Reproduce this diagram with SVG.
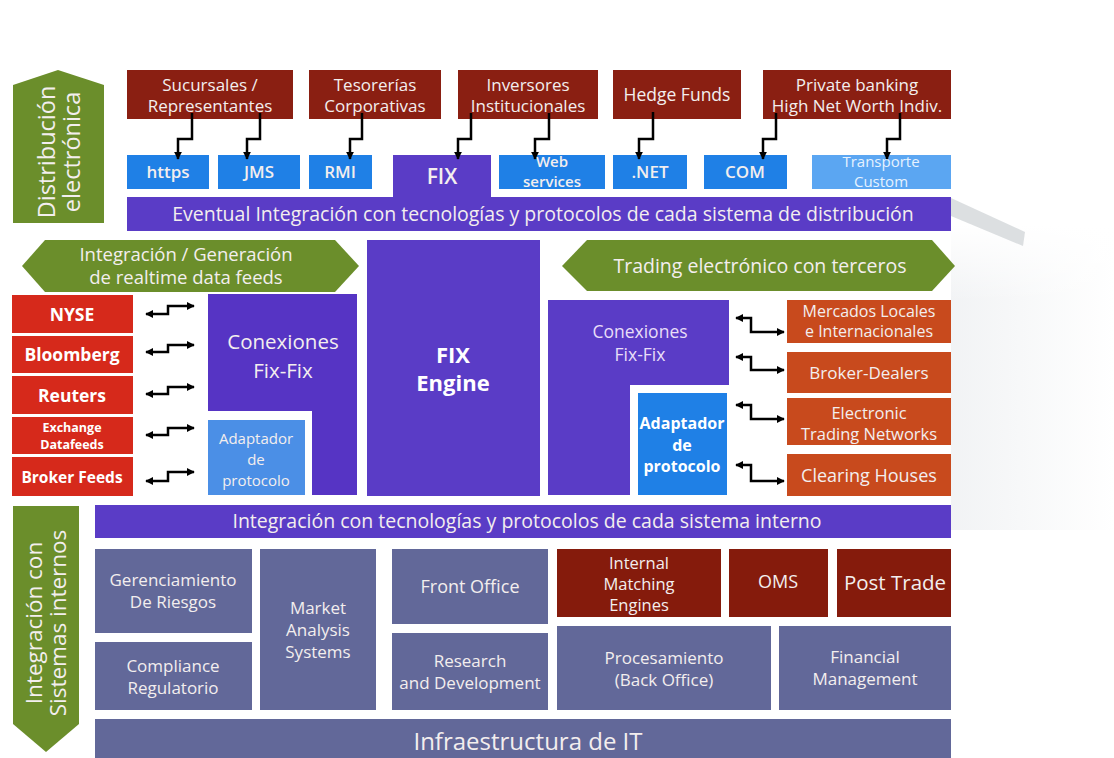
<svg xmlns="http://www.w3.org/2000/svg" width="1114" height="758" viewBox="0 0 1114 758">
<style>
text{font-family:"Open Sans","DejaVu Sans",sans-serif;text-anchor:middle;fill:#f3eeee}
.brown{fill:#8a1f12}
.blue{fill:#1f80e6}
.lblue{fill:#5ba6f2}
.purple{fill:#5a3cc6}
.green{fill:#6b8e2b}
.red{fill:#d6291b}
.orange{fill:#c84a1d}
.slate{fill:#626899}
.dbrown{fill:#851b0c}
.b{font-weight:bold;fill:#ffffff}
.sb{font-weight:600}
.conn path{fill:none;stroke:#000;stroke-width:2.5}
</style>
<defs>
<marker id="ah" viewBox="0 0 10 10" refX="9" refY="5" markerWidth="8" markerHeight="8" markerUnits="userSpaceOnUse" orient="auto-start-reverse">
<path d="M0,0 L10,5 L0,10 z" fill="#000"/>
</marker>
<linearGradient id="bg" x1="0" y1="0" x2="1" y2="0">
<stop offset="0" stop-color="#e6e9ec"/>
<stop offset="1" stop-color="#ffffff"/>
</linearGradient>
<linearGradient id="bgv" x1="0" y1="0" x2="0" y2="1">
<stop offset="0" stop-color="#ffffff" stop-opacity="1"/>
<stop offset="0.25" stop-color="#ffffff" stop-opacity="0"/>
</linearGradient>
</defs>
<rect width="1114" height="758" fill="#ffffff"/>
<g id="background">
<rect x="951" y="225" width="163" height="305" fill="url(#bg)" opacity="0.55"/>
<rect x="951" y="225" width="163" height="305" fill="url(#bgv)"/>
<polygon points="951,198 1025,232 1023,246 951,216" fill="#d3d7da" opacity="0.8"/>
</g>

<g id="dist-label">
<polygon class="green" points="13,85 58,70 104,85 104,223 13,223"/>
<text transform="translate(55,152) rotate(-90)" font-size="23.5">Distribución</text>
<text transform="translate(80,152) rotate(-90)" font-size="23.5">electrónica</text>
</g>

<g id="sucursales"><rect class="brown" x="127" y="70" width="166" height="49"/><text x="210" y="91" font-size="17">Sucursales /</text><text x="210" y="112" font-size="17">Representantes</text></g>
<g id="tesorerias"><rect class="brown" x="309" y="70" width="132" height="49"/><text x="375" y="91" font-size="17">Tesorerías</text><text x="375" y="112" font-size="17">Corporativas</text></g>
<g id="inversores"><rect class="brown" x="458" y="70" width="140" height="49"/><text x="528" y="91" font-size="17">Inversores</text><text x="528" y="112" font-size="17">Institucionales</text></g>
<g id="hedge"><rect class="brown" x="613" y="70" width="128" height="49"/><text x="677" y="101" font-size="17.5">Hedge Funds</text></g>
<g id="private"><rect class="brown" x="763" y="70" width="188" height="49"/><text x="857" y="91" font-size="17">Private banking</text><text x="857" y="112" font-size="17">High Net Worth Indiv.</text></g>

<g id="https"><rect class="blue" x="127" y="155" width="82" height="34"/><text class="sb" x="168" y="178" font-size="17">https</text></g>
<g id="jms"><rect class="blue" x="218" y="155" width="82" height="34"/><text class="sb" x="259" y="178" font-size="17">JMS</text></g>
<g id="rmi"><rect class="blue" x="309" y="155" width="63" height="34"/><text class="sb" x="340" y="178" font-size="17">RMI</text></g>
<g id="fix"><rect class="purple" x="393" y="155" width="98" height="44"/><text class="sb" x="442" y="184" font-size="21">FIX</text></g>
<g id="webservices"><rect class="blue" x="499" y="155" width="106" height="34"/><text class="sb" x="552" y="167" font-size="15">Web</text><text class="sb" x="552" y="186.5" font-size="15">services</text></g>
<g id="net"><rect class="blue" x="613" y="155" width="74" height="34"/><text class="sb" x="650" y="178" font-size="17">.NET</text></g>
<g id="com"><rect class="blue" x="704" y="155" width="83" height="34"/><text class="sb" x="745" y="178" font-size="17">COM</text></g>
<g id="transporte"><rect class="lblue" x="812" y="155" width="139" height="34"/><text x="881" y="167" font-size="15" style="fill:#e6f2ff">Transporte</text><text x="881" y="186.5" font-size="15" style="fill:#e6f2ff">Custom</text></g>

<g id="eventual"><rect class="purple" x="127" y="197" width="824" height="34"/><text x="543" y="220.5" font-size="19.5">Eventual Integración con tecnologías y protocolos de cada sistema de distribución</text></g>

<g id="realtime-label">
<polygon class="green" points="22,266 45,240 335,240 359,266 335,292 45,292"/>
<text x="186" y="261" font-size="18.5">Integración / Generación</text>
<text x="186" y="284" font-size="18.5">de realtime data feeds</text>
</g>
<g id="trading-label">
<polygon class="green" points="562,266 587,240 932,240 955,266 932,291 587,291"/>
<text x="760" y="272.5" font-size="19.5">Trading electrónico con terceros</text>
</g>

<g id="fix-engine"><rect class="purple" x="367" y="240" width="173" height="256"/><text class="b" x="453" y="363" font-size="22">FIX</text><text class="b" x="453" y="391" font-size="22">Engine</text></g>

<g id="nyse"><rect class="red" x="12" y="295" width="121" height="38"/><text class="b" x="72" y="320.5" font-size="17.5">NYSE</text></g>
<g id="bloomberg"><rect class="red" x="12" y="336" width="121" height="37"/><text class="b" x="72" y="361" font-size="17.5">Bloomberg</text></g>
<g id="reuters"><rect class="red" x="12" y="376" width="121" height="38"/><text class="b" x="72" y="401.5" font-size="17.5">Reuters</text></g>
<g id="exchange"><rect class="red" x="12" y="417" width="121" height="37"/><text class="b" x="72" y="432" font-size="12.5">Exchange</text><text class="b" x="72" y="449" font-size="12.5">Datafeeds</text></g>
<g id="brokerfeeds"><rect class="red" x="12" y="457" width="121" height="39"/><text class="b" x="72" y="482.5" font-size="15.5">Broker Feeds</text></g>

<g id="conexiones-left"><path class="purple" d="M208,294 H357 V495 H312 V411 H208 Z" style="fill:#5634c4"/><text x="283" y="349" font-size="20.5">Conexiones</text><text x="283" y="378" font-size="20.5">Fix-Fix</text></g>
<g id="adaptador-left"><rect x="208" y="420" width="97" height="75" fill="#4b8fe6"/><text x="256" y="444" font-size="15">Adaptador</text><text x="256" y="465" font-size="15">de</text><text x="256" y="486" font-size="15">protocolo</text></g>

<g id="conexiones-right"><path class="purple" d="M548,300 H729 V385 H630 V495 H548 Z"/><text x="640" y="338" font-size="17.5" style="fill:#e8def8">Conexiones</text><text x="640" y="361" font-size="17.5" style="fill:#e8def8">Fix-Fix</text></g>
<g id="adaptador-right"><rect class="blue" x="638" y="393" width="89" height="102"/><text class="b" x="682" y="429" font-size="16">Adaptador</text><text class="b" x="682" y="451" font-size="16">de</text><text class="b" x="682" y="472" font-size="16">protocolo</text></g>

<g id="mercados"><rect class="orange" x="787" y="300" width="164" height="43"/><text x="869" y="317" font-size="16">Mercados Locales</text><text x="869" y="337" font-size="16">e Internacionales</text></g>
<g id="brokerdealers"><rect class="orange" x="787" y="352" width="164" height="41"/><text x="869" y="379" font-size="17">Broker-Dealers</text></g>
<g id="ecn"><rect class="orange" x="787" y="398" width="164" height="47"/><text x="869" y="419" font-size="16.5">Electronic</text><text x="869" y="440" font-size="16.5">Trading Networks</text></g>
<g id="clearing"><rect class="orange" x="787" y="454" width="164" height="42"/><text x="869" y="481.5" font-size="18">Clearing Houses</text></g>

<g id="interno"><rect class="purple" x="95" y="505" width="856" height="33"/><text x="527" y="528" font-size="19.5">Integración con tecnologías y protocolos de cada sistema interno</text></g>

<g id="interno-label">
<polygon class="green" points="13,506 79,506 79,724 46,752 13,724"/>
<text transform="translate(42,623) rotate(-90)" font-size="22.5">Integración con</text>
<text transform="translate(66,623) rotate(-90)" font-size="22.5">Sistemas internos</text>
</g>

<g id="riesgos"><rect class="slate" x="95" y="549" width="157" height="84"/><text x="173" y="586" font-size="17">Gerenciamiento</text><text x="173" y="608" font-size="17">De Riesgos</text></g>
<g id="compliance"><rect class="slate" x="95" y="642" width="157" height="68"/><text x="173" y="672" font-size="17">Compliance</text><text x="173" y="694" font-size="17">Regulatorio</text></g>
<g id="market"><rect class="slate" x="260" y="549" width="116" height="161"/><text x="318" y="614" font-size="17">Market</text><text x="318" y="636" font-size="17">Analysis</text><text x="318" y="658" font-size="17">Systems</text></g>
<g id="frontoffice"><rect class="slate" x="392" y="549" width="156" height="75"/><text x="470" y="592.5" font-size="18">Front Office</text></g>
<g id="research"><rect class="slate" x="392" y="633" width="156" height="77"/><text x="470" y="667" font-size="17">Research</text><text x="470" y="689" font-size="17">and Development</text></g>
<g id="matching"><rect class="dbrown" x="557" y="549" width="164" height="68"/><text x="639" y="569" font-size="16.5">Internal</text><text x="639" y="590" font-size="16.5">Matching</text><text x="639" y="611" font-size="16.5">Engines</text></g>
<g id="oms"><rect class="dbrown" x="729" y="549" width="99" height="68"/><text x="778" y="588" font-size="18">OMS</text></g>
<g id="posttrade"><rect class="dbrown" x="837" y="549" width="114" height="68"/><text x="895" y="590" font-size="20.5">Post Trade</text></g>
<g id="procesamiento"><rect class="slate" x="557" y="626" width="214" height="84"/><text x="664" y="664" font-size="17">Procesamiento</text><text x="664" y="686" font-size="17">(Back Office)</text></g>
<g id="financial"><rect class="slate" x="779" y="626" width="172" height="84"/><text x="865" y="663" font-size="17">Financial</text><text x="865" y="685" font-size="17">Management</text></g>
<g id="infra"><rect class="slate" x="95" y="719" width="856" height="39"/><text x="528" y="750" font-size="24">Infraestructura de IT</text></g>

<g id="connectors" class="conn">
<path d="M192,113 V139 H178 V159" marker-end="url(#ah)"/>
<path d="M260,113 V139 H247 V159" marker-end="url(#ah)"/>
<path d="M362,113 V139 H350 V159" marker-end="url(#ah)"/>
<path d="M471,113 V139 H458 V159" marker-end="url(#ah)"/>
<path d="M549,113 V139 H535 V159" marker-end="url(#ah)"/>
<path d="M653,112 V139 H639 V159" marker-end="url(#ah)"/>
<path d="M776,113 V139 H763 V159" marker-end="url(#ah)"/>
<path d="M900,113 V139 H887 V159" marker-end="url(#ah)"/>
<path d="M146,314 H168 V306 H194" marker-start="url(#ah)" marker-end="url(#ah)"/>
<path d="M146,352 H168 V345 H194" marker-start="url(#ah)" marker-end="url(#ah)"/>
<path d="M146,394 H168 V387 H194" marker-start="url(#ah)" marker-end="url(#ah)"/>
<path d="M146,435 H168 V428 H194" marker-start="url(#ah)" marker-end="url(#ah)"/>
<path d="M146,481 H168 V472 H194" marker-start="url(#ah)" marker-end="url(#ah)"/>
<path d="M736,318 H751 V332 H784" marker-start="url(#ah)" marker-end="url(#ah)"/>
<path d="M736,357 H751 V370 H784" marker-start="url(#ah)" marker-end="url(#ah)"/>
<path d="M736,405 H751 V419 H784" marker-start="url(#ah)" marker-end="url(#ah)"/>
<path d="M736,465 H751 V481 H784" marker-start="url(#ah)" marker-end="url(#ah)"/>
</g>
</svg>
